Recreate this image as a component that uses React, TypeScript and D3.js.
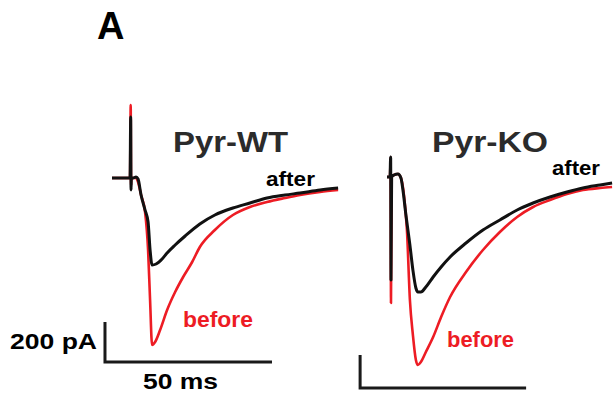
import React from "react";
import * as d3 from "d3";

// time (ms) and current (pA) samples
const wtTime = [0, 4.2, 5.4, 5.6, 5.7, 5.8, 6.3, 7.2, 7.8, 8.7, 9.9, 10.8, 11.4, 12.0, 13.2, 15.0, 16.5, 18.9, 21.9, 26.3, 30.8, 36.2, 41.3, 46.4, 51.8, 56.3, 62.3, 67.7];
const wtAfter = [0, 0, 0, 305, -60, 0, 0, 5, -5, -85, -160, -220, -360, -435, -430, -405, -375, -335, -290, -230, -185, -150, -125, -100, -85, -75, -60, -50];

const wtBeforeTime = [0, 5.4, 5.6, 5.7, 5.8, 7.2, 7.8, 8.7, 9.9, 10.8, 11.4, 12.0, 12.9, 14.4, 16.5, 18.9, 21.3, 24.0, 26.3, 30.8, 36.2, 41.3, 46.4, 51.8, 56.3, 62.3, 67.7];
const wtBefore = [0, 0, 365, -35, 0, 0, -20, -85, -170, -360, -610, -835, -820, -760, -660, -570, -495, -420, -345, -260, -185, -145, -120, -100, -85, -70, -60];

const koAfterTime = [0, 0.9, 1.1, 1.2, 1.4, 2.1, 3.3, 4.2, 4.8, 5.7, 6.9, 7.8, 8.7, 9.3, 10.2, 11.7, 13.9, 16.3, 19.0, 23.8, 28.9, 34.0, 39.2, 44.0, 49.1, 54.2, 59.0, 64.2, 67.8];
const koAfter = [0, 0, 100, -515, 0, 10, 15, -5, -65, -190, -340, -465, -555, -575, -575, -550, -500, -450, -400, -330, -265, -215, -165, -130, -100, -75, -55, -40, -30];

const koBeforeTime = [0, 0.9, 1.1, 1.2, 1.4, 2.1, 3.3, 4.2, 5.1, 6.0, 6.9, 7.8, 8.7, 9.3, 10.2, 11.7, 13.9, 16.3, 19.0, 23.8, 28.9, 34.0, 39.2, 44.0, 49.1, 54.2, 59.0, 64.2, 67.8];
const koBefore = [0, 0, 100, -630, 0, 10, 15, -5, -90, -265, -615, -790, -915, -940, -925, -875, -800, -700, -600, -475, -365, -275, -200, -150, -115, -85, -65, -55, -50];

const panelTitles = ["Pyr-WT", "Pyr-KO"];
const traceLabels = ["after", "before"];
const scaleBarLabels = ["200 pA", "50 ms"];
const scaleBarMs = [50, 50];
const scaleBarPA = [200, 165];
const scaleBarOriginMs = [-2.1, -8.1];
const scaleBarOriginPA = [-920, -1055];

const RED = "#ed1c24";
const BLACK = "#111";
const FONT = "'Liberation Sans', Arial, Helvetica, sans-serif";

type P = { t: number; i: number };
const zip = (t: number[], v: number[]): P[] => t.map((tt, k) => ({ t: tt, i: v[k] }));

const panels = [
  {
    x: d3.scaleLinear().domain([0, 50]).range([112, 279]),
    y: d3.scaleLinear().domain([0, -200]).range([178, 218]),
    before: zip(wtBeforeTime, wtBefore),
    after: zip(wtTime, wtAfter),
  },
  {
    x: d3.scaleLinear().domain([0, 50]).range([387, 553]),
    y: d3.scaleLinear().domain([0, -200]).range([177, 217]),
    before: zip(koBeforeTime, koBefore),
    after: zip(koAfterTime, koAfter),
  },
];

export default function App() {
  return (
    <svg
      width={613}
      height={402}
      style={{ position: "absolute", left: 0, top: 0, background: "#fff" }}
      fontFamily={FONT}
      fontWeight="bold"
    >
      <text x={97} y={39} fontSize={38} fill="#000">A</text>
      {panels.map((p, k) => {
        const line = d3
          .line<P>()
          .x((d) => p.x(d.t))
          .y((d) => p.y(d.i))
          .curve(d3.curveMonotoneX);
        const ox = p.x(scaleBarOriginMs[k]);
        const oy = p.y(scaleBarOriginPA[k]);
        const top = p.y(scaleBarOriginPA[k] + scaleBarPA[k]);
        const right = p.x(scaleBarOriginMs[k] + scaleBarMs[k]);
        return (
          <g key={k}>
            <path d={line(p.before) || ""} fill="none" stroke={RED} strokeWidth={2.6} strokeLinejoin="round" />
            <path d={line(p.after) || ""} fill="none" stroke={BLACK} strokeWidth={3} strokeLinejoin="round" />
            <path
              d={`M${ox},${top}V${oy}H${right}`}
              fill="none"
              stroke="#1a1a1a"
              strokeWidth={3}
            />
          </g>
        );
      })}
      <text x={173} y={152} fontSize={29} fill="#2b2b2b" textLength={115} lengthAdjust="spacingAndGlyphs">{panelTitles[0]}</text>
      <text x={432} y={152} fontSize={29} fill="#2b2b2b" textLength={116} lengthAdjust="spacingAndGlyphs">{panelTitles[1]}</text>
      <text x={266} y={186} fontSize={20} fill="#000" textLength={49} lengthAdjust="spacingAndGlyphs">{traceLabels[0]}</text>
      <text x={552} y={175} fontSize={20} fill="#000" textLength={48} lengthAdjust="spacingAndGlyphs">{traceLabels[0]}</text>
      <text x={183} y={327} fontSize={22} fill={RED} textLength={70} lengthAdjust="spacingAndGlyphs">{traceLabels[1]}</text>
      <text x={447} y={347} fontSize={22} fill={RED} textLength={67} lengthAdjust="spacingAndGlyphs">{traceLabels[1]}</text>
      <text x={10} y={349} fontSize={22} fill="#000" textLength={87} lengthAdjust="spacingAndGlyphs">{scaleBarLabels[0]}</text>
      <text x={143} y={389} fontSize={22} fill="#000" textLength={75} lengthAdjust="spacingAndGlyphs">{scaleBarLabels[1]}</text>
    </svg>
  );
}
